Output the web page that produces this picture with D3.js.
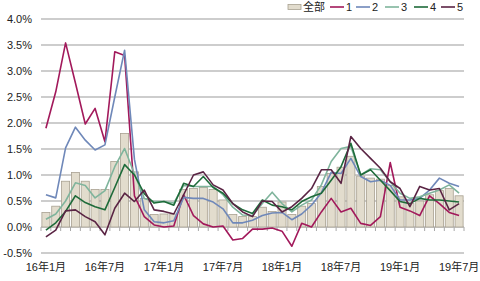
<!DOCTYPE html>
<html lang="zh">
<head>
<meta charset="UTF-8">
<title>Chart</title>
<script src="https://d3js.org/d3.v7.min.js"></script>
<style>
  body { margin: 0; padding: 0; background: #fff; }
  svg text { font-family: 'Liberation Sans', 'Noto Sans CJK SC', sans-serif; fill: #222; }
</style>
</head>
<body>
<div id="chart"></div>
<script>
const months = ['16-01','16-02','16-03','16-04','16-05','16-06','16-07','16-08','16-09','16-10','16-11','16-12',
  '17-01','17-02','17-03','17-04','17-05','17-06','17-07','17-08','17-09','17-10','17-11','17-12',
  '18-01','18-02','18-03','18-04','18-05','18-06','18-07','18-08','18-09','18-10','18-11','18-12',
  '19-01','19-02','19-03','19-04','19-05','19-06','19-07'];
const tickLabels = ['16年1月','16年7月','17年1月','17年7月','18年1月','18年7月','19年1月','19年7月'];
const tickMonths = ['16-01','16-07','17-01','17-07','18-01','18-07','19-01','19-07'];
const yTicks = [-0.5, 0, 0.5, 1.0, 1.5, 2.0, 2.5, 3.0, 3.5, 4.0];

// 全部 (bars)
const total = [0.28,0.40,0.88,1.05,0.88,0.72,0.72,1.26,1.80,1.06,0.55,0.24,0.25,0.25,0.72,0.74,0.76,0.72,0.52,0.24,0.20,0.20,0.38,0.30,0.48,0.24,0.40,0.45,0.78,1.03,1.15,1.36,0.98,0.94,0.92,0.80,0.58,0.45,0.50,0.62,0.70,0.74,0.60];
const s1 = [1.90,2.60,3.54,2.77,1.98,2.28,1.64,3.37,3.30,0.60,0.20,0.04,0.00,0.02,0.62,0.22,0.06,0.00,0.02,-0.25,-0.22,-0.04,-0.04,-0.02,-0.08,-0.37,0.07,0.00,0.29,0.55,0.29,0.36,0.07,0.03,0.20,1.24,0.38,0.31,0.22,0.60,0.45,0.28,0.22];
const s2 = [0.62,0.56,1.52,1.92,1.67,1.48,1.58,2.50,3.40,1.30,0.33,0.10,0.08,0.12,0.57,0.55,0.55,0.48,0.35,0.08,0.08,0.13,0.22,0.27,0.28,0.14,0.25,0.42,0.66,1.05,1.03,1.32,0.97,0.87,0.90,0.80,0.52,0.52,0.55,0.71,0.94,0.84,0.78];
const s3 = [0.15,0.25,0.50,0.85,0.80,0.56,0.70,1.16,1.51,1.02,0.55,0.49,0.49,0.46,0.80,0.78,0.78,0.78,0.62,0.38,0.23,0.22,0.45,0.67,0.45,0.29,0.42,0.52,0.81,1.26,1.51,1.55,1.00,1.12,1.10,0.87,0.65,0.55,0.58,0.65,0.71,0.81,0.65];
const s4 = [-0.06,0.08,0.30,0.60,0.47,0.39,0.33,0.76,1.20,1.00,0.64,0.46,0.49,0.42,0.84,0.78,0.97,0.76,0.65,0.45,0.33,0.26,0.52,0.42,0.39,0.33,0.49,0.58,0.65,0.90,1.16,1.61,1.00,1.10,0.90,0.70,0.49,0.45,0.55,0.52,0.52,0.50,0.48];
const s5 = [-0.19,-0.06,0.31,0.33,0.20,0.10,-0.15,0.36,0.65,0.49,0.71,0.33,0.30,0.25,0.62,1.00,1.06,0.81,0.71,0.45,0.29,0.20,0.50,0.49,0.29,0.39,0.55,0.74,1.10,1.10,0.84,1.74,1.51,1.32,1.13,0.87,0.74,0.39,0.78,0.71,0.74,0.33,0.45];

const series = [
  { name: '1', values: s1, color: '#a2195b' },
  { name: '2', values: s2, color: '#6f88b9' },
  { name: '3', values: s3, color: '#7fb49c' },
  { name: '4', values: s4, color: '#1e6b3a' },
  { name: '5', values: s5, color: '#5a2444' }
];

const width = 480, height = 281;
const plotLeft = 41, plotRight = 464, plotTop = 19, plotBottom = 253;

const svg = d3.select('#chart').append('svg')
  .attr('width', width)
  .attr('height', height);

const x = d3.scaleBand().domain(months).range([plotLeft, plotRight]).paddingInner(0.18).paddingOuter(0.09);
const y = d3.scaleLinear().domain([-0.5, 4.0]).range([plotBottom, plotTop]);
const step = x.step();

// gridlines
svg.append('g')
  .selectAll('line')
  .data(yTicks)
  .join('line')
  .attr('x1', plotLeft).attr('x2', plotRight)
  .attr('y1', d => y(d)).attr('y2', d => y(d))
  .attr('stroke', '#bdbdbd')
  .attr('stroke-width', 1.4);

// y labels
svg.append('g')
  .selectAll('text')
  .data(yTicks)
  .join('text')
  .attr('x', 32)
  .attr('y', d => y(d) + 4)
  .attr('text-anchor', 'end')
  .style('font-size', '11px')
  .text(d => d.toFixed(1) + '%');

// bars
svg.append('g')
  .selectAll('rect')
  .data(total)
  .join('rect')
  .attr('x', (d, i) => x(months[i]))
  .attr('width', x.bandwidth())
  .attr('y', d => y(Math.max(0, d)))
  .attr('height', d => Math.abs(y(d) - y(0)))
  .attr('fill', '#e2dccd')
  .attr('stroke', '#a8a191')
  .attr('stroke-width', 0.8);

// category axis ticks on zero line
svg.append('g')
  .selectAll('line')
  .data(d3.range(months.length + 1))
  .join('line')
  .attr('x1', i => plotLeft + i * step).attr('x2', i => plotLeft + i * step)
  .attr('y1', y(0)).attr('y2', y(0) + 4)
  .attr('stroke', '#a8a8a8')
  .attr('stroke-width', 1);

// lines
const line = d3.line()
  .x((d, i) => x(months[i]) + x.bandwidth() / 2)
  .y(d => y(d));

svg.append('g')
  .selectAll('path')
  .data(series)
  .join('path')
  .attr('d', d => line(d.values))
  .attr('fill', 'none')
  .attr('stroke', d => d.color)
  .attr('stroke-width', 1.6)
  .attr('stroke-linejoin', 'round');

// x labels
svg.append('g')
  .selectAll('text')
  .data(tickMonths)
  .join('text')
  .attr('x', d => x(d) + x.bandwidth() / 2)
  .attr('y', 271)
  .attr('text-anchor', 'middle')
  .style('font-size', '11px')
  .text((d, i) => tickLabels[i]);

// legend
const legend = svg.append('g');
legend.append('rect')
  .attr('x', 288).attr('y', 4.5).attr('width', 13).attr('height', 5)
  .attr('fill', '#e2dccd').attr('stroke', '#a8a191').attr('stroke-width', 0.8);
legend.append('text').attr('x', 303).attr('y', 11).style('font-size', '11px').text('全部');

const legendX = [330, 356, 385, 414, 441];
series.forEach((s, i) => {
  legend.append('line')
    .attr('x1', legendX[i]).attr('x2', legendX[i] + 14)
    .attr('y1', 7).attr('y2', 7)
    .attr('stroke', s.color).attr('stroke-width', 1.6);
  legend.append('text')
    .attr('x', legendX[i] + 16).attr('y', 11)
    .style('font-size', '11px')
    .text(s.name);
});
</script>
</body>
</html>
